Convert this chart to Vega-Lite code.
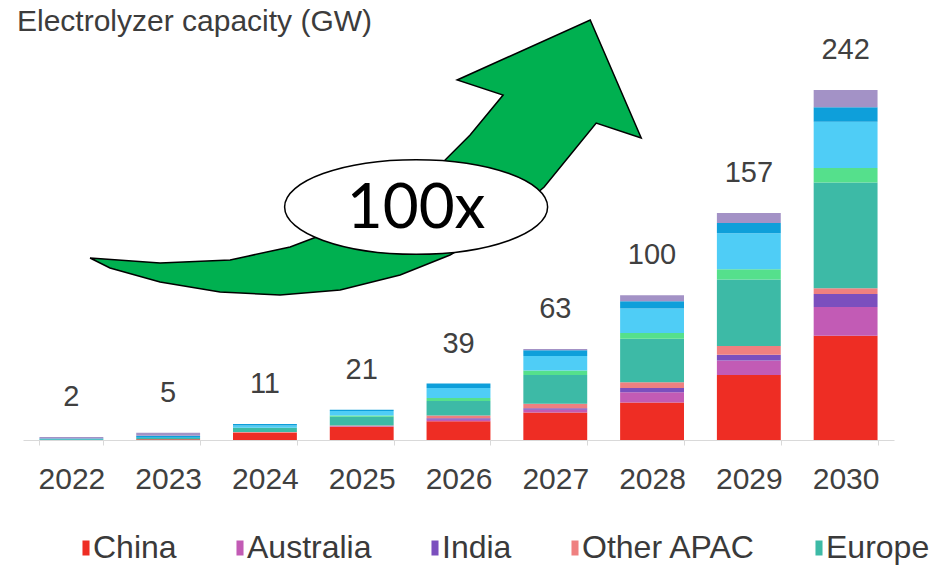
{
  "$schema": "https://vega.github.io/schema/vega-lite/v6.json",
  "width": 871,
  "height": 350,
  "autosize": {"type": "none"},
  "padding": {"left": 23, "top": 90, "right": 41, "bottom": 125},
  "background": "white",
  "config": {"view": {"stroke": null}, "font": "Liberation Sans"},
  "title": {
    "text": "Electrolyzer capacity (GW)",
    "anchor": "start",
    "frame": "group",
    "orient": "top",
    "font": "Liberation Sans",
    "fontSize": 30,
    "fontWeight": "normal",
    "color": "#3c3c3c",
    "baseline": "alphabetic",
    "offset": 0,
    "dx": -6,
    "dy": 44
  },
  "datasets": {
    "regions": [
      {"region": "China", "rank": 1},
      {"region": "Australia", "rank": 2},
      {"region": "India", "rank": 3},
      {"region": "Other APAC", "rank": 4},
      {"region": "Europe", "rank": 5},
      {"region": "Middle East", "rank": 6},
      {"region": "North America", "rank": 7},
      {"region": "Latin America", "rank": 8},
      {"region": "Rest of world", "rank": 9}
    ],
    "capacity": [
      {"year": "2022", "region": "Europe", "gw": 0.5},
      {"year": "2022", "region": "Latin America", "gw": 0.5},
      {"year": "2022", "region": "Rest of world", "gw": 1},
      {"year": "2023", "region": "China", "gw": 0.5},
      {"year": "2023", "region": "Europe", "gw": 1},
      {"year": "2023", "region": "Latin America", "gw": 1.5},
      {"year": "2023", "region": "Rest of world", "gw": 2},
      {"year": "2024", "region": "China", "gw": 5},
      {"year": "2024", "region": "Other APAC", "gw": 0.5},
      {"year": "2024", "region": "Europe", "gw": 3},
      {"year": "2024", "region": "North America", "gw": 1.5},
      {"year": "2024", "region": "Latin America", "gw": 1},
      {"year": "2025", "region": "China", "gw": 9},
      {"year": "2025", "region": "Australia", "gw": 0.5},
      {"year": "2025", "region": "Other APAC", "gw": 0.5},
      {"year": "2025", "region": "Europe", "gw": 6},
      {"year": "2025", "region": "Middle East", "gw": 1},
      {"year": "2025", "region": "North America", "gw": 3},
      {"year": "2025", "region": "Latin America", "gw": 1},
      {"year": "2026", "region": "China", "gw": 13},
      {"year": "2026", "region": "Australia", "gw": 1},
      {"year": "2026", "region": "India", "gw": 1},
      {"year": "2026", "region": "Other APAC", "gw": 2},
      {"year": "2026", "region": "Europe", "gw": 10},
      {"year": "2026", "region": "Middle East", "gw": 2},
      {"year": "2026", "region": "North America", "gw": 7},
      {"year": "2026", "region": "Latin America", "gw": 3},
      {"year": "2027", "region": "China", "gw": 19},
      {"year": "2027", "region": "Australia", "gw": 2},
      {"year": "2027", "region": "India", "gw": 1},
      {"year": "2027", "region": "Other APAC", "gw": 3},
      {"year": "2027", "region": "Europe", "gw": 20},
      {"year": "2027", "region": "Middle East", "gw": 3},
      {"year": "2027", "region": "North America", "gw": 10},
      {"year": "2027", "region": "Latin America", "gw": 4},
      {"year": "2027", "region": "Rest of world", "gw": 1},
      {"year": "2028", "region": "China", "gw": 26},
      {"year": "2028", "region": "Australia", "gw": 7},
      {"year": "2028", "region": "India", "gw": 3},
      {"year": "2028", "region": "Other APAC", "gw": 4},
      {"year": "2028", "region": "Europe", "gw": 30},
      {"year": "2028", "region": "Middle East", "gw": 4},
      {"year": "2028", "region": "North America", "gw": 17},
      {"year": "2028", "region": "Latin America", "gw": 5},
      {"year": "2028", "region": "Rest of world", "gw": 4},
      {"year": "2029", "region": "China", "gw": 45},
      {"year": "2029", "region": "Australia", "gw": 10},
      {"year": "2029", "region": "India", "gw": 4},
      {"year": "2029", "region": "Other APAC", "gw": 6},
      {"year": "2029", "region": "Europe", "gw": 46},
      {"year": "2029", "region": "Middle East", "gw": 7},
      {"year": "2029", "region": "North America", "gw": 25},
      {"year": "2029", "region": "Latin America", "gw": 7},
      {"year": "2029", "region": "Rest of world", "gw": 7},
      {"year": "2030", "region": "China", "gw": 72},
      {"year": "2030", "region": "Australia", "gw": 20},
      {"year": "2030", "region": "India", "gw": 9},
      {"year": "2030", "region": "Other APAC", "gw": 4},
      {"year": "2030", "region": "Europe", "gw": 73},
      {"year": "2030", "region": "Middle East", "gw": 10},
      {"year": "2030", "region": "North America", "gw": 32},
      {"year": "2030", "region": "Latin America", "gw": 10},
      {"year": "2030", "region": "Rest of world", "gw": 12}
    ],
    "arrow": [
      {"i": 1, "pos": 2022.193, "level": 125.84},
      {"i": 2, "pos": 2022.916, "level": 122.38},
      {"i": 3, "pos": 2023.640, "level": 124.46},
      {"i": 4, "pos": 2024.260, "level": 133.45},
      {"i": 5, "pos": 2024.777, "level": 146.58},
      {"i": 6, "pos": 2025.397, "level": 169.40},
      {"i": 7, "pos": 2025.810, "level": 190.14},
      {"i": 8, "pos": 2026.120, "level": 210.89},
      {"i": 9, "pos": 2026.461, "level": 238.54},
      {"i": 10, "pos": 2025.986, "level": 248.91},
      {"i": 11, "pos": 2027.361, "level": 290.40},
      {"i": 12, "pos": 2027.888, "level": 208.81},
      {"i": 13, "pos": 2027.423, "level": 219.18},
      {"i": 14, "pos": 2027.154, "level": 197.06},
      {"i": 15, "pos": 2026.885, "level": 174.93},
      {"i": 16, "pos": 2026.430, "level": 148.66},
      {"i": 17, "pos": 2025.913, "level": 127.91},
      {"i": 18, "pos": 2025.397, "level": 114.09},
      {"i": 19, "pos": 2024.777, "level": 103.71},
      {"i": 20, "pos": 2024.156, "level": 100.26},
      {"i": 21, "pos": 2023.536, "level": 102.33},
      {"i": 22, "pos": 2022.916, "level": 109.25},
      {"i": 23, "pos": 2022.399, "level": 118.93}
    ],
    "badge": [
      {"pos": 2025.562, "level": 161.1, "label": "100x"}
    ]
  },
  "layer": [
    {
      "layer": [
        {
          "data": {"name": "capacity"},
          "transform": [
            {"lookup": "region", "from": {"data": {"name": "regions"}, "key": "region", "fields": ["rank"]}}
          ],
          "mark": {"type": "bar"},
          "encoding": {
            "x": {
              "field": "year",
              "type": "nominal",
              "scale": {"paddingInner": 0.34, "paddingOuter": 0.17},
              "axis": {
                "title": null,
                "labelAngle": 0,
                "labelFont": "Liberation Sans",
                "labelFontSize": 30,
                "labelColor": "#404040",
                "domainColor": "#d9d9d9",
                "tickColor": "#d9d9d9",
                "tickBand": "extent",
                "tickSize": 5,
                "labelPadding": 19
              }
            },
            "y": {
              "field": "gw",
              "type": "quantitative",
              "stack": "zero",
              "scale": {"domain": [0, 242], "nice": false},
              "axis": null
            },
            "order": {"field": "rank", "type": "quantitative", "sort": "ascending"},
            "color": {
              "field": "region",
              "type": "nominal",
              "scale": {
                "domain": ["China", "Australia", "India", "Other APAC", "Europe", "Middle East", "North America", "Latin America", "Rest of world"],
                "range": ["#ee2d24", "#c25bb5", "#7b4fbe", "#ef8080", "#3dbaa6", "#55e08c", "#4fcdf6", "#0e9fda", "#a392c6"]
              },
              "legend": {
                "values": ["China", "Australia", "India", "Other APAC", "Europe"],
                "orient": "none",
                "legendX": 47,
                "legendY": 442,
                "direction": "horizontal",
                "title": null,
                "symbolType": "M-0.47,-1H0.47V1H-0.47Z",
                "symbolSize": 225,
                "symbolStrokeWidth": 0,
                "labelFont": "Liberation Sans",
                "labelFontSize": 32,
                "labelColor": "#3a3a3a",
                "labelOffset": -9,
                "labelLimit": 0,
                "columnPadding": 47,
                "padding": 0
              }
            }
          }
        },
        {
          "data": {"name": "capacity"},
          "mark": {
            "type": "text",
            "baseline": "alphabetic",
            "dy": -31,
            "font": "Liberation Sans",
            "fontSize": 29,
            "color": "#404040"
          },
          "encoding": {
            "x": {"field": "year", "type": "nominal"},
            "y": {"aggregate": "sum", "field": "gw", "type": "quantitative"},
            "text": {"aggregate": "sum", "field": "gw", "type": "quantitative", "format": "d"}
          }
        }
      ]
    },
    {
      "layer": [
        {
          "data": {"name": "arrow"},
          "mark": {
            "type": "line",
            "interpolate": "linear-closed",
            "fill": "#00b050",
            "stroke": "#000000",
            "strokeWidth": 1.5,
            "strokeJoin": "miter",
            "clip": false
          },
          "encoding": {
            "x": {"field": "pos", "type": "quantitative", "scale": {"domain": [2021.5, 2030.5], "nice": false, "zero": false}, "axis": null},
            "y": {"field": "level", "type": "quantitative", "scale": {"domain": [0, 242], "nice": false}, "axis": null},
            "order": {"field": "i", "type": "quantitative"}
          }
        },
        {
          "data": {"name": "badge"},
          "mark": {
            "type": "point",
            "shape": "M-1,0A1,0.36 0 1,1 1,0A1,0.36 0 1,1 -1,0Z",
            "size": 69169,
            "filled": true,
            "fill": "#ffffff",
            "stroke": "#000000",
            "strokeWidth": 1.5,
            "opacity": 1,
            "clip": false
          },
          "encoding": {
            "x": {"field": "pos", "type": "quantitative"},
            "y": {"field": "level", "type": "quantitative"}
          }
        },
        {
          "data": {"name": "badge"},
          "mark": {
            "type": "text",
            "font": "Lato",
            "fontSize": 62,
            "baseline": "middle",
            "align": "center",
            "color": "#000000",
            "dy": 2
          },
          "encoding": {
            "x": {"field": "pos", "type": "quantitative"},
            "y": {"field": "level", "type": "quantitative"},
            "text": {"field": "label"}
          }
        }
      ]
    }
  ],
  "resolve": {"scale": {"x": "independent"}}
}
